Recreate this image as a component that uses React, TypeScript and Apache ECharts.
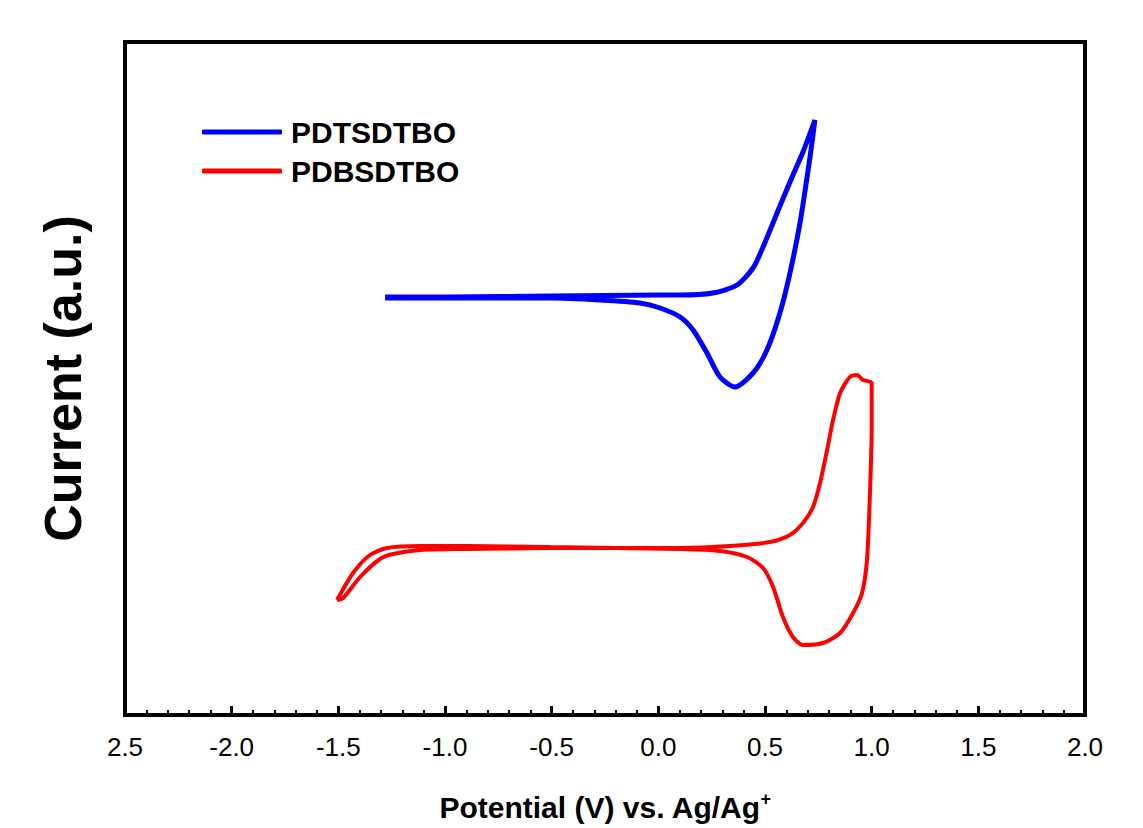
import React, { useEffect, useRef } from "react";
import * as echarts from "echarts";

// PDTSDTBO cyclic voltammogram (potential V, current a.u.)
const blueV = [-1.281, -0.977, -0.508, 0.008, 0.102, 0.256, 0.369, 0.444, 0.491, 0.570, 0.631, 0.678, 0.734, 0.711, 0.664, 0.617, 0.570, 0.509, 0.444, 0.359, 0.289, 0.228, 0.163, 0.102, 0.008, -0.086, -0.273, -0.508, -0.977, -1.281];
const blueI = [418, 418, 419, 420, 420, 422, 430, 447, 468, 509, 540, 563, 595, 558, 492, 442, 402, 365, 342, 328, 338, 362, 385, 398, 407, 412, 415, 417, 417, 417];

// PDBSDTBO cyclic voltammogram
const redV = [-1.506, -1.478, -1.398, -1.305, -1.244, -1.117, -0.897, -0.508, 0.102, 0.336, 0.523, 0.617, 0.678, 0.725, 0.758, 0.791, 0.819, 0.852, 0.898, 0.931, 0.959, 1.0, 1.0, 0.992, 0.978, 0.955, 0.913, 0.852, 0.772, 0.678, 0.631, 0.584, 0.538, 0.491, 0.416, 0.289, 0.102, -0.508, -0.897, -1.117, -1.272, -1.352, -1.431, -1.506];
const redI = [115, 117, 138, 156, 161, 165, 166, 167, 167, 169, 173, 180, 192, 208, 232, 265, 295, 322, 338, 340, 335, 332, 288, 222, 155, 122, 102, 82, 72, 70, 78, 98, 128, 147, 158, 164, 166, 168, 169, 169, 167, 160, 142, 115];

const seriesNames = ["PDTSDTBO", "PDBSDTBO"];
const seriesColors = ["#0000ff", "#ff0000"];

const xMin = -2.5;
const xMax = 2.0;
const xStep = 0.5;

const zip = (a: number[], b: number[]) => a.map((v, i) => [v, b[i]]);

export default function App() {
  const ref = useRef<HTMLDivElement>(null);
  useEffect(() => {
    if (!ref.current) return;
    const chart = echarts.init(ref.current, null, { renderer: "svg" });
    const font = "Liberation Sans, Arial, sans-serif";
    chart.setOption({
      animation: false,
      backgroundColor: "#ffffff",
      grid: {
        left: 125,
        right: 58,
        top: 42,
        bottom: 113,
        show: true,
        borderColor: "#000",
        borderWidth: 4,
      },
      legend: {
        orient: "vertical",
        left: 197,
        top: 111,
        itemWidth: 80,
        itemHeight: 5,
        itemGap: 7,
        icon: "roundRect",
        data: [
          { name: seriesNames[0], itemStyle: { color: seriesColors[0] } },
          { name: seriesNames[1], itemStyle: { color: seriesColors[1] } },
        ],
        textStyle: {
          fontFamily: font,
          fontWeight: "bold",
          fontSize: 30,
          color: "#000",
          lineHeight: 32,
          padding: [0, 0, 0, 4],
        },
      },
      xAxis: {
        type: "value",
        min: xMin,
        max: xMax,
        interval: xStep,
        name: "{a|Potential (V) vs. Ag/Ag}{s|+}",
        nameLocation: "middle",
        nameGap: 75,
        nameTextStyle: {
          rich: {
            a: { fontFamily: font, fontWeight: "bold", fontSize: 30, color: "#000" },
            s: { fontFamily: font, fontWeight: "bold", fontSize: 18, color: "#000", padding: [0, 0, 17, 0] },
          },
        },
        axisLine: { show: true, onZero: false, lineStyle: { color: "#000", width: 4 } },
        axisTick: { show: true, inside: true, length: 9, lineStyle: { color: "#000", width: 3 } },
        minorTick: { show: true, splitNumber: 5, length: 5, lineStyle: { color: "#000", width: 2 } },
        splitLine: { show: false },
        axisLabel: {
          margin: 19,
          fontFamily: font,
          fontSize: 26,
          color: "#000",
          formatter: (v: number) => (Math.abs(v - xMin) < 1e-9 ? "2.5" : v.toFixed(1)),
        },
      },
      yAxis: {
        type: "value",
        min: 0,
        max: 673,
        name: "Current (a.u.)",
        nameLocation: "middle",
        nameGap: 36,
        nameTextStyle: { fontFamily: font, fontWeight: "bold", fontSize: 52, color: "#000" },
        axisLine: { show: false, onZero: false },
        axisTick: { show: false },
        axisLabel: { show: false },
        splitLine: { show: false },
      },
      series: [
        {
          name: seriesNames[0],
          type: "line",
          data: zip(blueV, blueI),
          symbol: "none",
          smooth: 0.25,
          lineStyle: { color: seriesColors[0], width: 5 },
          itemStyle: { color: seriesColors[0] },
        },
        {
          name: seriesNames[1],
          type: "line",
          data: zip(redV, redI),
          symbol: "none",
          smooth: 0.25,
          lineStyle: { color: seriesColors[1], width: 4 },
          itemStyle: { color: seriesColors[1] },
        },
      ],
    });
    return () => chart.dispose();
  }, []);
  return (
    <div
      ref={ref}
      style={{ position: "absolute", left: 0, top: 0, width: 1143, height: 828 }}
    />
  );
}
